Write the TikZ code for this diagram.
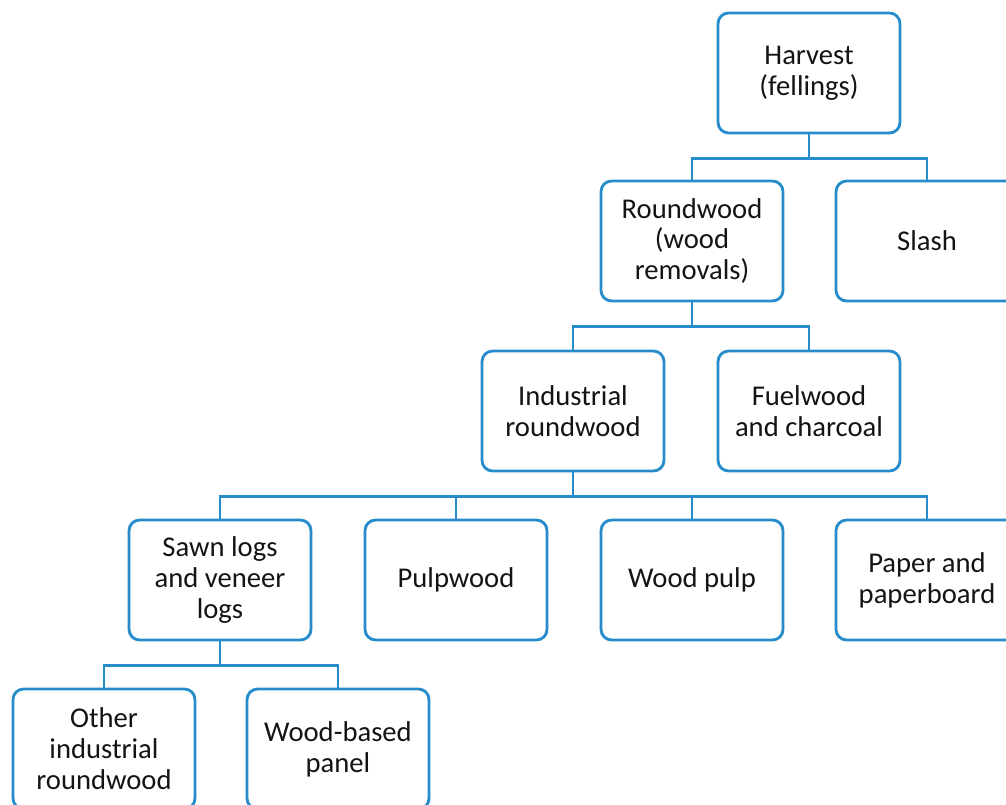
\documentclass[tikz,border=0pt]{standalone}
\usepackage{fontspec}
\setmainfont{Carlito}
\usepackage{tikz}
\usetikzlibrary{positioning}
\definecolor{boxblue}{RGB}{38,140,204}
\definecolor{inktext}{RGB}{20,20,20}

\begin{document}
\begin{tikzpicture}[x=0.02cm, y=-0.02cm,
  box/.style={draw=boxblue, line width=1.6pt, rounded corners=6pt, fill=white,
    minimum width=3.64cm, minimum height=2.4cm, align=center, text=inktext,
    font=\fontsize{16.3}{17.6}\selectfont, inner sep=0pt},
  link/.style={draw=boxblue, line width=1.6pt}]
  \useasboundingbox (0,0) rectangle (1006,804);
  \clip (0,0) rectangle (1006,804);
  % top of the tree
  \node[box] (harvest) at (809,73) {Harvest\\(fellings)};
  \node[box] (roundwood) at (692,241) {Roundwood\\(wood\\removals)};
  \node[box] (slash) at (927,241) {Slash};
  % second level
  \node[box] (industrial) at (573,411) {Industrial\\roundwood};
  \node[box] (fuelwood) at (809,411) {Fuelwood\\and charcoal};
  % products
  \node[box] (sawnlogs) at (220,580) {Sawn logs\\and veneer\\logs};
  \node[box] (pulpwood) at (456,580) {Pulpwood};
  \node[box] (woodpulp) at (692,580) {Wood pulp};
  \node[box] (paper) at (927,580) {Paper and\\paperboard};
  % from sawn logs
  \node[box] (otherind) at (104,749) {Other\\industrial\\roundwood};
  \node[box] (panel) at (338,749) {Wood-based\\panel};

  % elbow connectors
  \draw[link] (harvest.south) |- ++(0,24) -| (roundwood.north);
  \draw[link] (harvest.south) |- ++(0,24) -| (slash.north);
  \draw[link] (roundwood.south) |- ++(0,24) -| (industrial.north);
  \draw[link] (roundwood.south) |- ++(0,24) -| (fuelwood.north);
  \foreach \kid in {sawnlogs,pulpwood,woodpulp,paper}
    \draw[link] (industrial.south) |- ++(0,24) -| (\kid.north);
  \draw[link] (sawnlogs.south) |- ++(0,24) -| (otherind.north);
  \draw[link] (sawnlogs.south) |- ++(0,24) -| (panel.north);
\end{tikzpicture}
\end{document}
